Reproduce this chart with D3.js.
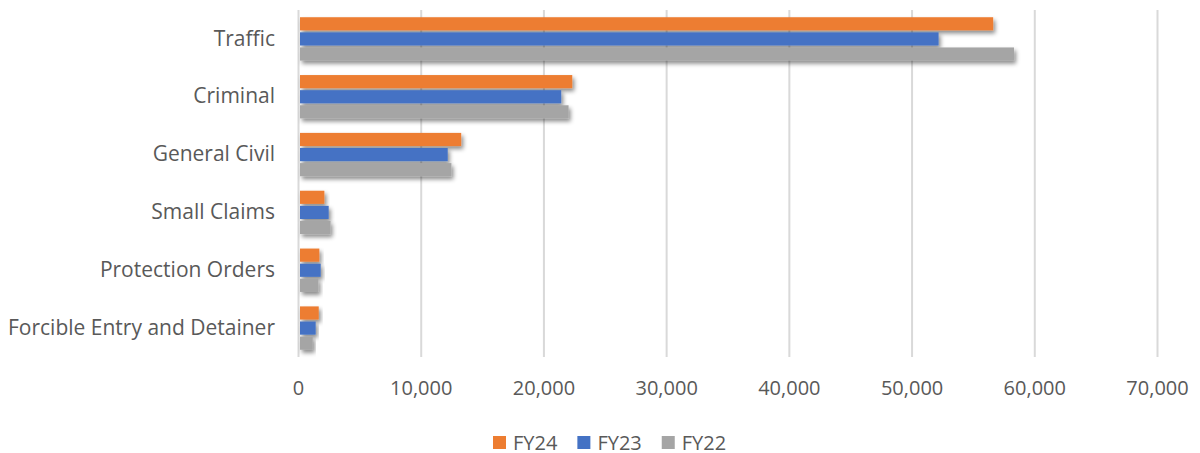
<!DOCTYPE html>
<html>
<head>
<meta charset="utf-8">
<script src="https://cdn.jsdelivr.net/npm/d3@7"></script>
<style>
  body { margin: 0; background: #fff; overflow: hidden; }
  svg { display: block; }
  text { font-family: "Open Sans", "Noto Sans", sans-serif; fill: #595959; }
</style>
</head>
<body>
<script>
// categories top to bottom
const categories = ['Traffic', 'Criminal', 'General Civil', 'Small Claims', 'Protection Orders', 'Forcible Entry and Detainer']
// series, in drawing order inside each group
const seriesNames = ['FY24', 'FY23', 'FY22']
const fy24 = [56650, 22350, 13300, 2150, 1740, 1690]
const fy23 = [52200, 21450, 12200, 2500, 1850, 1440]
const fy22 = [58350, 22050, 12500, 2650, 1660, 1200]
const xTicks = [0, 10000, 20000, 30000, 40000, 50000, 60000, 70000]
const colors = ['#ED7D31', '#4472C4', '#A5A5A5']

const seriesValues = [fy24, fy23, fy22]
const data = categories.map((c, i) => ({
  category: c,
  values: seriesNames.map((s, j) => ({ key: s, value: seriesValues[j][i] }))
}))

const width = 1200
const height = 453
const margin = { top: 10, right: 43, bottom: 96, left: 298 }
const innerWidth = width - margin.left - margin.right
const innerHeight = height - margin.top - margin.bottom

const svg = d3.select('body').append('svg')
  .attr('width', width)
  .attr('height', height)

//soft shadow like the office chart
const defs = svg.append('defs')
defs.append('filter')
    .attr('id', 'shadow')
    .attr('x', '-10%').attr('y', '-50%')
    .attr('width', '130%').attr('height', '250%')
  .append('feDropShadow')
    .attr('dx', 2).attr('dy', 3)
    .attr('stdDeviation', 2)
    .attr('flood-color', '#000')
    .attr('flood-opacity', 0.45)

const g = svg.append('g')
  .attr('transform', `translate(${margin.left},${margin.top})`)

const xScale = d3.scaleLinear()
  .domain([0, 70000])
  .range([0, innerWidth])

const yScale = d3.scaleBand()
  .domain(categories)
  .range([0, innerHeight])
  .paddingInner(0.25)
  .paddingOuter(0.125)

const ySeries = d3.scaleBand()
  .domain(seriesNames)
  .range([0, yScale.bandwidth()])
  .paddingInner(0.13)

//gridlines
const xGrid = d3.axisBottom(xScale)
  .tickValues(xTicks)
  .tickSize(innerHeight)
  .tickFormat('')
g.append('g').call(xGrid)
    .attr('class', 'grid')
  .call(s => s.select('.domain').remove())
  .call(s => s.selectAll('line').attr('stroke', '#d9d9d9').attr('stroke-width', 2))

//x axis labels
const xAxis = d3.axisBottom(xScale)
  .tickValues(xTicks)
  .tickSize(0)
  .tickPadding(0)
  .tickFormat(d3.format(','))
g.append('g').call(xAxis)
    .attr('transform', `translate(0,${innerHeight + 30.5})`)
  .call(s => s.select('.domain').remove())
  .selectAll('text')
    .attr('dy', '0.35em')
    .attr('font-size', 20)
    .attr('font-family', null)
    .attr('fill', null)

//category labels
const yAxis = d3.axisLeft(yScale)
  .tickSize(0)
  .tickPadding(23)
g.append('g').call(yAxis)
  .call(s => s.select('.domain').remove())
  .selectAll('text')
    .attr('font-size', 21)
    .attr('font-family', null)
    .attr('fill', null)

//bars
const groups = g.selectAll('.group')
  .data(data)
  .enter()
  .append('g')
    .attr('class', 'group')
    .attr('transform', d => `translate(0,${yScale(d.category)})`)

groups.selectAll('rect')
  .data(d => d.values)
  .enter()
  .append('rect')
    .attr('x', 2)
    .attr('y', d => ySeries(d.key))
    .attr('width', d => xScale(d.value) - 2)
    .attr('height', ySeries.bandwidth())
    .attr('fill', (d, i) => colors[i])
    .attr('filter', 'url(#shadow)')

//legend
const legend = svg.append('g')
  .attr('transform', `translate(493,436)`)
let lx = 0
seriesNames.forEach((s, i) => {
  const item = legend.append('g').attr('transform', `translate(${lx},0)`)
  item.append('rect')
    .attr('width', 13).attr('height', 13)
    .attr('fill', colors[i])
  const t = item.append('text')
    .attr('x', 20).attr('y', 6.5)
    .attr('dy', '0.35em')
    .attr('font-size', 20)
    .text(s)
  lx += 20 + t.node().getComputedTextLength() + 20
})
</script>
</body>
</html>
